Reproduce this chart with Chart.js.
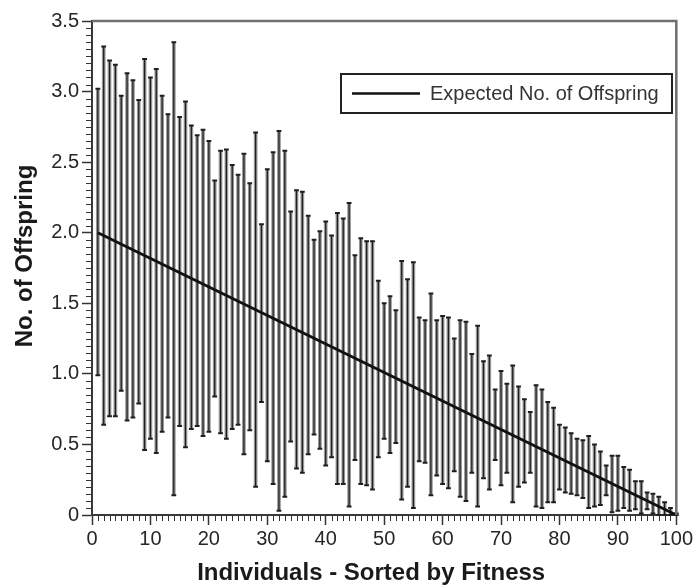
<!DOCTYPE html>
<html>
<head>
<meta charset="utf-8">
<script src="https://cdn.jsdelivr.net/npm/chart.js@4.4.1/dist/chart.umd.min.js"></script>
<style>
  html, body { margin: 0; padding: 0; background: #fff; }
  #wrap { width: 695px; height: 586px; }
</style>
</head>
<body>
<div id="wrap"><canvas id="c" width="695" height="586"></canvas></div>
<script>
// Rank of each individual after sorting by fitness (1 = fittest)
const individuals = Array.from({ length: 100 }, (_, i) => i + 1);

// Upper end of the spread in offspring count, per individual
const upperBound = [
  3.02, 3.32, 3.22, 3.19, 2.97, 3.13, 3.08, 2.94, 3.23, 3.10,
  3.16, 2.97, 2.84, 3.35, 2.82, 2.93, 2.76, 2.69, 2.73, 2.65,
  2.37, 2.58, 2.59, 2.48, 2.41, 2.56, 2.35, 2.71, 2.06, 2.45,
  2.57, 2.72, 2.58, 2.15, 2.30, 2.29, 2.12, 1.95, 2.01, 2.08,
  1.98, 2.14, 2.10, 2.21, 1.84, 1.96, 1.94, 1.94, 1.66, 1.50,
  1.55, 1.45, 1.80, 1.67, 1.79, 1.40, 1.38, 1.57, 1.38, 1.41,
  1.40, 1.25, 1.38, 1.37, 1.14, 1.34, 1.09, 1.13, 0.89, 1.02,
  0.93, 1.06, 0.91, 0.82, 0.73, 0.92, 0.89, 0.80, 0.76, 0.64,
  0.62, 0.58, 0.54, 0.53, 0.56, 0.50, 0.45, 0.35, 0.42, 0.42,
  0.34, 0.32, 0.24, 0.24, 0.16, 0.15, 0.13, 0.09, 0.05, 0.01
];

// Lower end of the spread in offspring count, per individual
const lowerBound = [
  0.99, 0.64, 0.70, 0.70, 0.88, 0.67, 0.69, 0.79, 0.46, 0.54,
  0.44, 0.59, 0.69, 0.14, 0.63, 0.48, 0.61, 0.63, 0.56, 0.59,
  0.84, 0.58, 0.54, 0.61, 0.64, 0.43, 0.60, 0.20, 0.80, 0.38,
  0.22, 0.03, 0.13, 0.52, 0.33, 0.30, 0.43, 0.57, 0.47, 0.35,
  0.41, 0.22, 0.22, 0.06, 0.39, 0.22, 0.21, 0.18, 0.41, 0.54,
  0.44, 0.51, 0.11, 0.20, 0.05, 0.38, 0.37, 0.14, 0.28, 0.22,
  0.19, 0.31, 0.13, 0.10, 0.30, 0.06, 0.26, 0.18, 0.39, 0.21,
  0.30, 0.09, 0.20, 0.23, 0.30, 0.06, 0.05, 0.09, 0.09, 0.18,
  0.16, 0.15, 0.14, 0.12, 0.05, 0.06, 0.07, 0.14, 0.02, 0.03,
  0.05, 0.03, 0.04, 0.01, 0.04, 0.01, 0.00, 0.00, 0.00, 0.00
];

// Expected number of offspring under linear ranking: end points of the line
const expectedRank = [1, 100];
const expectedValue = [2.0, 0.0];

const seriesLabel = 'Expected No. of Offspring';
const xTitle = 'Individuals - Sorted by Fitness';
const yTitle = 'No. of Offspring';

const FONT = "'Liberation Sans', Arial, Helvetica, sans-serif";
const INK = '#262626';

// Dark centre stroke and end caps on every spread bar
const errorCaps = {
  id: 'errorCaps',
  afterDatasetDraw(chart, args) {
    if (args.index !== 0) return;
    const { ctx } = chart;
    const x = chart.scales.x, y = chart.scales.y;
    ctx.save();
    ctx.strokeStyle = '#1e1e1e';
    ctx.lineWidth = 1.2;
    ctx.beginPath();
    individuals.forEach((rank, i) => {
      const px = x.getPixelForValue(rank);
      ctx.moveTo(px, y.getPixelForValue(upperBound[i]));
      ctx.lineTo(px, y.getPixelForValue(lowerBound[i]));
    });
    ctx.stroke();
    ctx.lineWidth = 2;
    ctx.beginPath();
    individuals.forEach((rank, i) => {
      const px = x.getPixelForValue(rank);
      const top = y.getPixelForValue(upperBound[i]);
      const bot = y.getPixelForValue(lowerBound[i]);
      ctx.moveTo(px - 2.4, top); ctx.lineTo(px + 2.4, top);
      ctx.moveTo(px - 2.4, bot); ctx.lineTo(px + 2.4, bot);
    });
    ctx.stroke();
    ctx.restore();
  }
};

// Closed frame, minor tick marks, axis titles and the boxed legend
const frameDecor = {
  id: 'frameDecor',
  afterDraw(chart) {
    const { ctx, chartArea: ca } = chart;
    const x = chart.scales.x, y = chart.scales.y;
    ctx.save();
    ctx.strokeStyle = '#6f6f6f';
    ctx.lineWidth = 2.5;
    ctx.beginPath();
    ctx.moveTo(ca.left, ca.top);
    ctx.lineTo(ca.right, ca.top);
    ctx.lineTo(ca.right, ca.bottom);
    ctx.stroke();

    ctx.strokeStyle = '#333';
    ctx.lineWidth = 1;
    ctx.beginPath();
    for (let v = 1; v < 100; v++) {
      if (v % 10 === 0) continue;
      const px = Math.round(x.getPixelForValue(v)) + 0.5;
      ctx.moveTo(px, ca.bottom);
      ctx.lineTo(px, ca.bottom + 6);
    }
    for (let k = 1; k < 70; k++) {
      if (k % 10 === 0) continue;
      const py = Math.round(y.getPixelForValue(k * 0.05)) + 0.5;
      ctx.moveTo(ca.left, py);
      ctx.lineTo(ca.left - 6, py);
    }
    ctx.stroke();

    // axis titles
    ctx.fillStyle = '#1a1a1a';
    ctx.font = 'bold 24px ' + FONT;
    ctx.textAlign = 'center';
    ctx.textBaseline = 'middle';
    ctx.fillText(xTitle, (ca.left + ca.right) / 2 - 13, chart.height - 13);
    ctx.save();
    ctx.translate(25, (ca.top + ca.bottom) / 2 - 12);
    ctx.rotate(-Math.PI / 2);
    ctx.fillText(yTitle, 0, 0);
    ctx.restore();

    // legend box
    const bx = ca.left + 249, by = ca.top + 53, bw = 331, bh = 39;
    ctx.fillStyle = '#fff';
    ctx.fillRect(bx, by, bw, bh);
    ctx.strokeStyle = '#222';
    ctx.lineWidth = 2;
    ctx.strokeRect(bx, by, bw, bh);
    const midY = by + bh / 2;
    ctx.strokeStyle = '#111';
    ctx.lineWidth = 2.5;
    ctx.beginPath();
    ctx.moveTo(bx + 11, midY);
    ctx.lineTo(bx + 79, midY);
    ctx.stroke();
    ctx.fillStyle = '#333';
    ctx.font = '20px ' + FONT;
    ctx.textBaseline = 'middle';
    ctx.textAlign = 'left';
    ctx.fillText(chart.data.datasets[1].label, bx + 89, midY + 1);
    ctx.restore();
  }
};

new Chart(document.getElementById('c'), {
  type: 'bar',
  data: {
    datasets: [
      {
        type: 'bar',
        label: 'Spread',
        data: individuals.map((rank, i) => ({ x: rank, y: [lowerBound[i], upperBound[i]] })),
        backgroundColor: '#959595',
        borderWidth: 0,
        barThickness: 3,
        grouped: false,
        order: 2
      },
      {
        type: 'line',
        label: seriesLabel,
        data: expectedRank.map((r, i) => ({ x: r, y: expectedValue[i] })),
        borderColor: '#111',
        borderWidth: 2.8,
        pointRadius: 0,
        fill: false,
        tension: 0,
        order: 1
      }
    ]
  },
  options: {
    responsive: false,
    animation: false,
    devicePixelRatio: 1,
    layout: { padding: { top: 21, right: 18, left: 0, bottom: 0 } },
    plugins: {
      legend: { display: false },
      tooltip: { enabled: false },
      title: { display: false }
    },
    scales: {
      x: {
        type: 'linear',
        min: 0,
        max: 100,
        offset: false,
        afterFit(scale) { scale.height = 71; },
        ticks: {
          stepSize: 10,
          autoSkip: false,
          maxRotation: 0,
          padding: 2,
          color: INK,
          font: { family: FONT, size: 20 }
        },
        grid: {
          offset: false,
          drawOnChartArea: false,
          drawTicks: true,
          tickLength: 10,
          tickColor: '#333',
          tickWidth: 1.5
        },
        border: { display: true, color: '#3a3a3a', width: 2 },
        title: { display: false, text: xTitle }
      },
      y: {
        type: 'linear',
        min: 0,
        max: 3.5,
        afterFit(scale) { scale.width = 92; },
        ticks: {
          stepSize: 0.5,
          padding: 3,
          color: INK,
          font: { family: FONT, size: 20 },
          callback: (v) => (v === 0 ? '0' : Number(v).toFixed(1))
        },
        grid: {
          drawOnChartArea: false,
          drawTicks: true,
          tickLength: 10,
          tickColor: '#333',
          tickWidth: 1.5
        },
        border: { display: true, color: '#3a3a3a', width: 2 },
        title: { display: false, text: yTitle }
      }
    }
  },
  plugins: [errorCaps, frameDecor]
});
</script>
</body>
</html>
